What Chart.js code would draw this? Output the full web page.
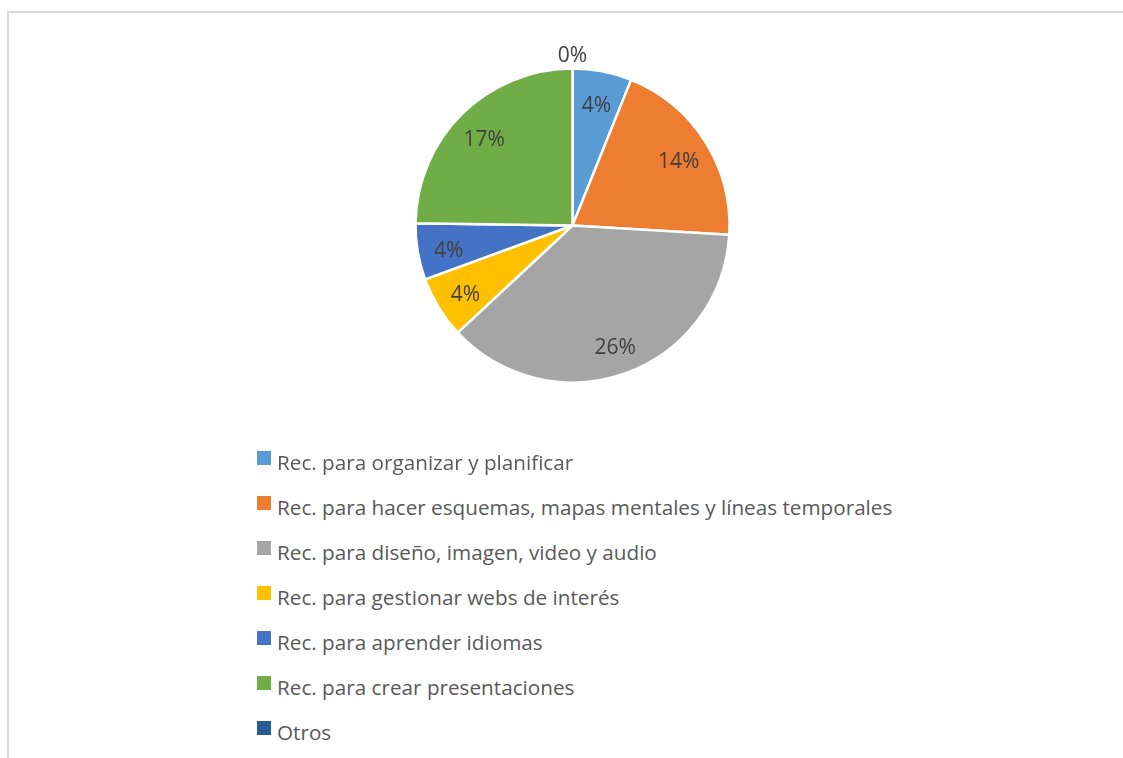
<!DOCTYPE html>
<html>
<head>
<meta charset="utf-8">
<script src="https://cdn.jsdelivr.net/npm/chart.js@4.4.0/dist/chart.umd.min.js"></script>
<style>
  html, body { margin: 0; padding: 0; background: #fff; width: 1123px; height: 758px; overflow: hidden; }
  #hline { position: absolute; left: 7px; top: 11px; width: 1116px; height: 2px; background: #d9d9d9; }
  #vline { position: absolute; left: 7px; top: 11px; width: 2px; height: 747px; background: #d9d9d9; }
  #wrap { position: absolute; left: 0; top: 0; width: 1123px; height: 451px; }
  #legend { position: absolute; left: 257px; top: 451px; margin: 0; padding: 0; list-style: none; font-family: "Open Sans", Lato, sans-serif; font-size: 20.7px; color: #595959; }
  #legend li { position: relative; height: 45px; padding-left: 20px; line-height: 25px; white-space: nowrap; }
  #legend li span.box { position: absolute; left: 0; top: 0; width: 14px; height: 14px; }
  #legend li span.txt { position: relative; top: -1px; }
</style>
</head>
<body>
<div id="hline"></div>
<div id="vline"></div>
<div id="wrap"><canvas id="c"></canvas></div>
<ul id="legend"></ul>
<script>
const categories = [
  "Rec. para organizar y planificar",
  "Rec. para hacer esquemas, mapas mentales y líneas temporales",
  "Rec. para diseño, imagen, video y audio",
  "Rec. para gestionar webs de interés",
  "Rec. para aprender idiomas",
  "Rec. para crear presentaciones",
  "Otros"
];
// percentages (labels shown rounded to whole percent)
const values = [4.2, 13.7, 25.6, 4.4, 4.0, 17.1, 0];
const colors = ["#5B9BD5", "#ED7D31", "#A5A5A5", "#FFC000", "#4472C4", "#70AD47", "#255E91"];

const labelPlugin = {
  id: 'sliceLabels',
  afterDatasetsDraw(chart) {
    const ctx = chart.ctx;
    const meta = chart.getDatasetMeta(0);
    const data = chart.data.datasets[0].data;
    ctx.save();
    ctx.font = '21px "Open Sans", Lato, sans-serif';
    ctx.fillStyle = '#404040';
    ctx.textAlign = 'center';
    ctx.textBaseline = 'middle';
    meta.data.forEach((arc, i) => {
      const p = arc.getProps(['x', 'y', 'startAngle', 'endAngle', 'outerRadius'], true);
      const mid = (p.startAngle + p.endAngle) / 2;
      const r = data[i] > 0 ? p.outerRadius * 0.8 : p.outerRadius + 16;
      ctx.fillText(Math.round(data[i]) + '%', p.x + Math.cos(mid) * r, p.y + Math.sin(mid) * r + 4);
    });
    ctx.restore();
  }
};

const htmlLegend = {
  id: 'htmlLegend',
  afterUpdate(chart) {
    const ul = document.getElementById('legend');
    ul.innerHTML = '';
    chart.data.labels.forEach((lab, i) => {
      const li = document.createElement('li');
      const box = document.createElement('span');
      box.className = 'box';
      box.style.background = chart.data.datasets[0].backgroundColor[i];
      const txt = document.createElement('span');
      txt.className = 'txt';
      txt.textContent = lab;
      li.appendChild(box);
      li.appendChild(txt);
      ul.appendChild(li);
    });
  }
};

new Chart(document.getElementById('c'), {
  type: 'pie',
  data: {
    labels: categories,
    datasets: [{
      data: values,
      backgroundColor: colors,
      borderColor: '#ffffff',
      borderWidth: 2.5
    }]
  },
  options: {
    responsive: true,
    maintainAspectRatio: false,
    animation: false,
    radius: 157,
    layout: { padding: { left: 22, right: 0, top: 0, bottom: 0 } },
    plugins: {
      legend: { display: false },
      tooltip: { enabled: false }
    }
  },
  plugins: [labelPlugin, htmlLegend]
});
</script>
</body>
</html>
